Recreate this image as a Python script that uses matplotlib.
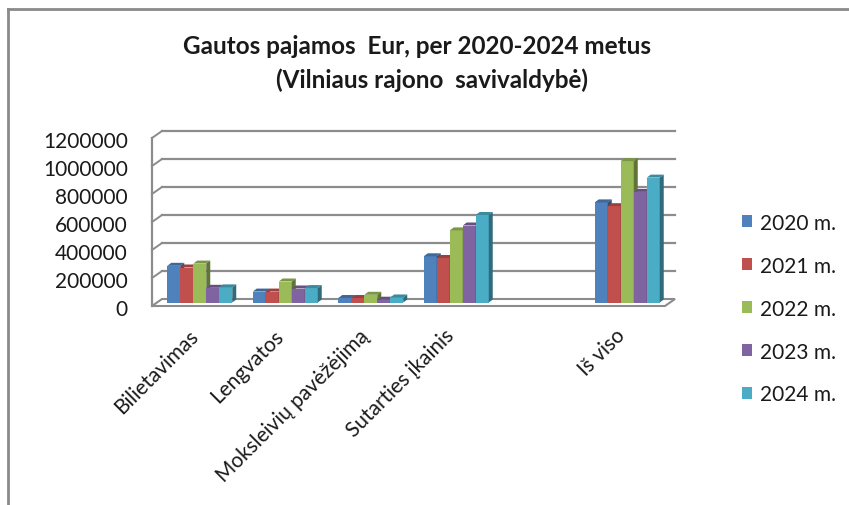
import numpy as np
import matplotlib
matplotlib.use("Agg")
import matplotlib.pyplot as plt
from matplotlib.patches import Polygon, Patch
from matplotlib.lines import Line2D

plt.rcParams['font.family'] = ['Lato', 'DejaVu Sans']

# data; the empty category is the gap before "Iš viso"
categories = ["Bilietavimas", "Lengvatos", "Moksleivių pavėžėjimą",
              "Sutarties įkainis", "", "Iš viso"]
years = ["2020 m.", "2021 m.", "2022 m.", "2023 m.", "2024 m."]
v2020 = [262000, 78000, 32000, 330000, np.nan, 715000]
v2021 = [250000, 78000, 32000, 318000, np.nan, 688000]
v2022 = [278000, 150000, 55000, 515000, np.nan, 1010000]
v2023 = [105000, 100000, 20000, 550000, np.nan, 790000]
v2024 = [108000, 103000, 36000, 625000, np.nan, 892000]
series = [v2020, v2021, v2022, v2023, v2024]
colors = ["#4F81BD", "#C0504D", "#9BBB59", "#8064A2", "#4BACC6"]
yticks = [0, 200000, 400000, 600000, 800000, 1000000, 1200000]

W, H, DPI = 849, 506, 100
fig = plt.figure(figsize=(W / DPI, H / DPI), dpi=DPI)

# front plot area in pixels
px0, px1, py0, py1 = 152, 665, 307, 139
ax = fig.add_axes([px0 / W, (H - py0) / H, (px1 - px0) / W, (py0 - py1) / H])
ncat = len(categories)
ax.set_xlim(-0.5, ncat - 0.5)
ax.set_ylim(0, yticks[-1])
ax.axis("off")

sx = (px1 - px0) / ncat          # pixels per category
sy = (py0 - py1) / yticks[-1]    # pixels per value unit


def shift(dx_px, dy_px):
    return dx_px / sx, dy_px / sy


def shade(c, f):
    rgb = np.array(matplotlib.colors.to_rgb(c))
    return tuple(rgb * f)


grid_c = "#8c8c8c"
txt_c = "#1a1a1a"
FS = 15
DX, DY = shift(10, 7)   # depth of the chart box

# floor
floor = Polygon([(-0.5, 0), (ncat - 0.5, 0), (ncat - 0.5 + DX, DY), (-0.5 + DX, DY)],
                closed=True, facecolor="white", edgecolor=grid_c, lw=1.5,
                clip_on=False, zorder=1)
ax.add_patch(floor)

# back wall gridlines + slanted ticks on the left wall
for v in yticks[1:]:
    ax.plot([-0.5 + DX, ncat - 0.5 + DX], [v + DY, v + DY], color=grid_c, lw=1.6,
            clip_on=False, zorder=1)
    ax.plot([-0.5, -0.5 + DX], [v, v + DY], color=grid_c, lw=1.4, clip_on=False, zorder=1)
ax.plot([-0.5, -0.5], [0, yticks[-1]], color=grid_c, lw=1.6, clip_on=False, zorder=2)

# tick labels
tdx, tdy = shift(-24, -3)
for v in yticks:
    ax.text(-0.5 + tdx, v + tdy, f"{v}", ha="right", va="center", fontsize=FS,
            color=txt_c)

# bars
nser = len(series)
group = 0.76
bw = group / nser
hx, hy = shift(5, 3.5)      # bars sit at mid depth
bdx, bdy = shift(4, 3)      # bar depth
z = 3
for ci in range(ncat):
    for si, vals in enumerate(series):
        v = vals[ci]
        if np.isnan(v):
            continue
        left = ci - group / 2 + si * bw + hx
        base = hy
        top = hy + v
        ax.bar(left, v, width=bw, bottom=base, align="edge", color=colors[si],
               lw=0, zorder=z)
        ax.add_patch(Polygon([(left, top), (left + bw, top), (left + bw + bdx, top + bdy),
                              (left + bdx, top + bdy)], closed=True,
                             facecolor=shade(colors[si], 0.8), lw=0, zorder=z))
        ax.add_patch(Polygon([(left + bw, base), (left + bw + bdx, base + bdy),
                              (left + bw + bdx, top + bdy), (left + bw, top)], closed=True,
                             facecolor=shade(colors[si], 0.62), lw=0, zorder=z))
        z += 1

# category labels
ldx, ldy = shift(-7, -19)
for ci, name in enumerate(categories):
    if name:
        ax.text(ci + ldx, ldy, name, rotation=45, ha="right", va="top",
                rotation_mode="anchor", fontsize=FS, color=txt_c, clip_on=False)

# title
fig.text(417 / W, 1 - 47 / H, "Gautos pajamos  Eur, per 2020-2024 metus",
         ha="center", va="center", fontsize=17.5, fontweight="bold", color=txt_c)
fig.text(432 / W, 1 - 80 / H, "(Vilniaus rajono  savivaldybė)",
         ha="center", va="center", fontsize=17.5, fontweight="bold", color=txt_c)

# legend
handles = [Patch(facecolor=c, edgecolor="none") for c in colors]
fig.legend(handles, years, loc="upper left", bbox_to_anchor=(723 / W, 1 - 195 / H),
           frameon=False, fontsize=FS, handlelength=0.5, handleheight=0.5,
           handletextpad=0.4, labelspacing=1.1, labelcolor=txt_c)

# outer frame (left and top edges)
fig.add_artist(Line2D([8 / W, 8 / W], [0, 1 - 10 / H], color="#8a8a8a", lw=2))
fig.add_artist(Line2D([8 / W, 1], [1 - 10 / H, 1 - 10 / H], color="#8a8a8a", lw=2))

fig.savefig("out.png", dpi=DPI)
